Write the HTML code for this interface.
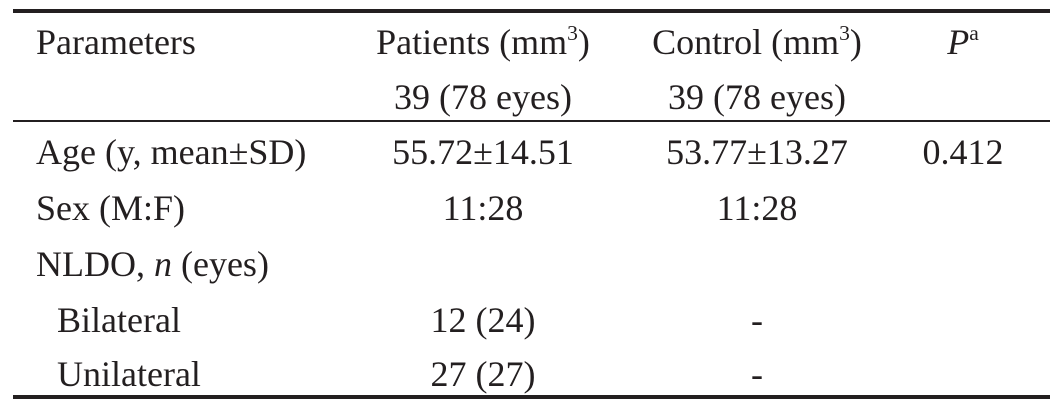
<!DOCTYPE html>
<html><head><meta charset="utf-8"><style>
body{margin:0;background:#fff;}
#t{position:relative;width:1063px;height:410px;font-family:"Liberation Serif",serif;font-size:36px;color:#231f20;}
.c{position:absolute;white-space:nowrap;line-height:1;}
.m{transform:translateX(-50%);}
.l{position:absolute;left:13px;width:1037px;background:#231f20;}
sup{font-size:60%;vertical-align:0;position:relative;top:-14px;}
</style></head><body>
<div id="t">
<div class="l" style="top:9px;height:4px"></div>
<div class="l" style="top:120px;height:2px"></div>
<div class="l" style="top:395px;height:4px"></div>

<div class="c" style="left:36px;top:24px">Parameters</div>
<div class="c m" style="left:483px;top:24px">Patients (mm<sup>3</sup>)</div>
<div class="c m" style="left:757px;top:24px">Control (mm<sup>3</sup>)</div>
<div class="c m" style="left:963px;top:24px"><i>P</i><sup>a</sup></div>
<div class="c m" style="left:483px;top:79px">39 (78 eyes)</div>
<div class="c m" style="left:757px;top:79px">39 (78 eyes)</div>

<div class="c" style="left:36px;top:134px">Age (y, mean±SD)</div>
<div class="c m" style="left:483px;top:134px">55.72±14.51</div>
<div class="c m" style="left:757px;top:134px">53.77±13.27</div>
<div class="c m" style="left:963px;top:134px">0.412</div>

<div class="c" style="left:36px;top:190px">Sex (M:F)</div>
<div class="c m" style="left:483px;top:190px">11:28</div>
<div class="c m" style="left:757px;top:190px">11:28</div>

<div class="c" style="left:36px;top:246px">NLDO, <i>n</i> (eyes)</div>

<div class="c" style="left:57px;top:302px">Bilateral</div>
<div class="c m" style="left:483px;top:302px">12 (24)</div>
<div class="c m" style="left:757px;top:302px">-</div>

<div class="c" style="left:57px;top:356px">Unilateral</div>
<div class="c m" style="left:483px;top:356px">27 (27)</div>
<div class="c m" style="left:757px;top:356px">-</div>
</div>
</body></html>
